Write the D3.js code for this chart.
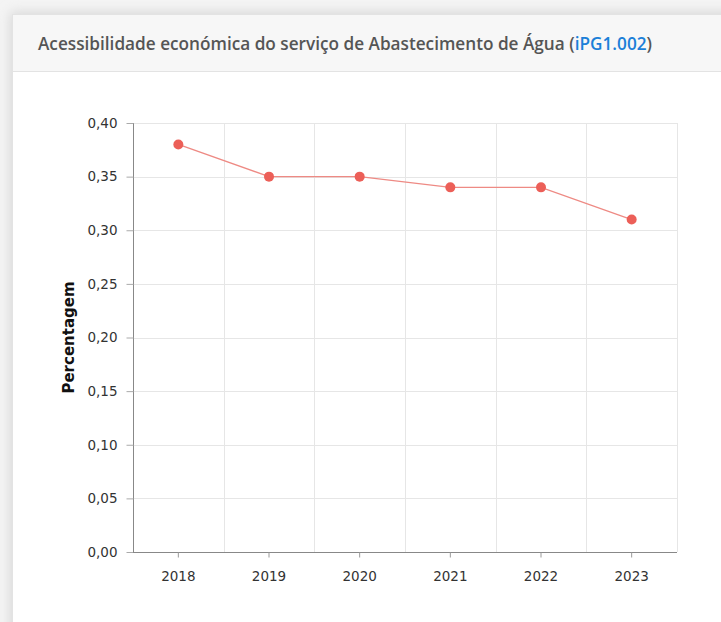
<!DOCTYPE html>
<html>
<head>
<meta charset="utf-8">
<script src="https://cdn.jsdelivr.net/npm/d3@7"></script>
<style>
  body { margin: 0; background: #f0f0f0; }
  #chart { width: 721px; height: 622px; }
</style>
</head>
<body>
<div id="chart"></div>
<script>
(function () {

/* data */
  var years = ["2018", "2019", "2020", "2021", "2022", "2023"];
  var values = [0.38, 0.35, 0.35, 0.34, 0.34, 0.31];
  var yTicks = [0, 0.05, 0.10, 0.15, 0.20, 0.25, 0.30, 0.35, 0.40];

  var width = 721,
      height = 622;

  var svg = d3.select('#chart')
    .append("svg")
    .attr('width', width)
    .attr('height', height)

  //soft shadow around the card
  var defs = svg.append("defs");
  var blur = defs.append("filter").attr("id", "shadow")
    .attr("x", "-10%").attr("y", "-10%").attr("width", "120%").attr("height", "120%");
  blur.append("feGaussianBlur").attr("stdDeviation", 6);

  svg.append("rect")
    .attr("width", width).attr("height", height)
    .attr("fill", "#f4f4f4")

  svg.append("rect")
    .attr("x", 10).attr("y", 12)
    .attr("width", 740).attr("height", 640)
    .attr("fill", "#d8d8d8")
    .attr("filter", "url(#shadow)")

  //card body
  svg.append("rect")
    .attr("x", 12.5).attr("y", 14.5)
    .attr("width", 740).attr("height", 640)
    .attr("fill", "#fff")
    .attr("stroke", "#e3e3e3")

  //header
  svg.append("rect")
    .attr("x", 13).attr("y", 15)
    .attr("width", 740).attr("height", 56)
    .attr("fill", "#f7f7f7")
  svg.append("line")
    .attr("x1", 13).attr("x2", 753)
    .attr("y1", 71.5).attr("y2", 71.5)
    .attr("stroke", "#e3e3e3")

  var title = svg.append("text")
    .attr("x", 38).attr("y", 50)
    .style("font-family", "'Open Sans', sans-serif")
    .style("font-size", "17.2px")
    .style("font-weight", 600)
    .attr("fill", "#555")
  title.append("tspan").text("Acessibilidade económica do serviço de Abastecimento de Água (")
  title.append("tspan").attr("fill", "#1b7fd8").text("iPG1.002")
  title.append("tspan").text(")")

/* scales */
  var plot = { left: 133, right: 677, top: 123, bottom: 552 };

  var x = d3.scaleBand().domain(years).range([plot.left, plot.right]);
  var y = d3.scaleLinear().domain([0, 0.4]).range([plot.bottom, plot.top]);

  var g = svg.append("g")
  var fmt = function (d) { return d3.format(".2f")(d).replace(".", ","); };

  //horizontal grid
  g.selectAll(".hgrid")
    .data(yTicks.slice(1))
    .enter().append("line")
    .attr("class", "hgrid")
    .attr("x1", plot.left).attr("x2", plot.right)
    .attr("y1", function (d) { return Math.round(y(d)) + 0.5 })
    .attr("y2", function (d) { return Math.round(y(d)) + 0.5 })
    .attr("stroke", "#e6e6e6")

  //vertical grid on the category borders
  g.selectAll(".vgrid")
    .data(years)
    .enter().append("line")
    .attr("class", "vgrid")
    .attr("x1", function (d) { return Math.round(x(d) + x.bandwidth()) + 0.5 })
    .attr("x2", function (d) { return Math.round(x(d) + x.bandwidth()) + 0.5 })
    .attr("y1", plot.top).attr("y2", plot.bottom)
    .attr("stroke", "#e6e6e6")

  //axes
  var yAxis = g.append("g")
    .attr("transform", "translate(" + (plot.left + 0.5) + ",0)")
    .call(d3.axisLeft(y).tickValues(yTicks).tickFormat(fmt).tickSize(7).tickPadding(9))
  var xAxis = g.append("g")
    .attr("transform", "translate(0," + (plot.bottom + 0.5) + ")")
    .call(d3.axisBottom(x).tickSize(5).tickPadding(14))

  svg.selectAll(".domain").attr("stroke", "#888")
  svg.selectAll(".tick line").attr("stroke", "#999")
  svg.selectAll(".tick text")
    .style("font-family", "Verdana, 'DejaVu Sans', sans-serif")
    .style("font-size", "13.5px")
    .attr("fill", "#333")
  yAxis.select(".domain").attr("d", "M0," + plot.top + "V" + plot.bottom)
  yAxis.selectAll(".tick line").attr("stroke", "#aaa")
  xAxis.select(".domain").attr("d", "M" + plot.left + ",0H" + plot.right)

  svg.append("text")
    .attr("transform", "translate(74," + ((plot.top + plot.bottom) / 2) + ") rotate(-90)")
    .attr("text-anchor", "middle")
    .style("font-family", "Verdana, 'DejaVu Sans', sans-serif")
    .style("font-size", "15px")
    .style("font-weight", "bold")
    .attr("fill", "#111")
    .text("Percentagem")

/* line and points */
  var line = d3.line()
    .x(function (d, i) { return x(years[i]) + x.bandwidth() / 2 })
    .y(function (d) { return y(d) })

  g.append("path")
    .datum(values)
    .attr("d", line)
    .attr("fill", "none")
    .attr("stroke", "#ee8a84")
    .attr("stroke-width", 1.3)

  g.selectAll(".dot")
    .data(values)
    .enter().append("circle")
    .attr("class", "dot")
    .attr("cx", function (d, i) { return x(years[i]) + x.bandwidth() / 2 })
    .attr("cy", function (d) { return y(d) })
    .attr("r", 5)
    .attr("fill", "#ec5f58")

})()
</script>
</body>
</html>
